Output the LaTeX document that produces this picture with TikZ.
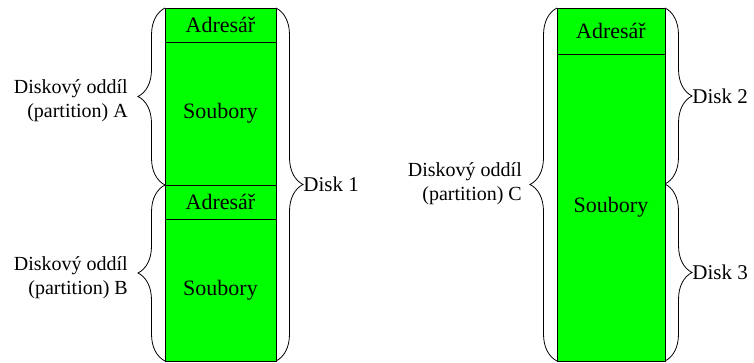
\documentclass[tikz,border=0pt]{standalone}
\usepackage{fontspec}
\setmainfont{Liberation Serif}
\usetikzlibrary{positioning, decorations.pathreplacing}
\definecolor{disk_fill}{HTML}{00FF00}

\begin{document}
\begin{tikzpicture}[
    x=1pt, y=-1pt,
    blok/.style={draw=black, fill=disk_fill, line width=0.8pt, inner sep=0pt, outer sep=0pt,
                 font=\fontsize{22}{26}\selectfont},
    zavorka/.style={decorate, decoration={brace, amplitude=27pt}, line width=0.8pt},
    popis/.style={font=\fontsize{20}{24}\selectfont, align=right, inner sep=0pt},
    disk/.style={font=\fontsize{21}{25}\selectfont, inner sep=0pt}
]
\useasboundingbox (0,0) rectangle (754,363);

% --- Disk 1 (oddily A a B) ---
\node[blok, anchor=north west, minimum width=111pt, minimum height=34pt] (adrA) at (165,8) {Adresář};
\node[blok, anchor=north, minimum width=111pt, minimum height=143pt] (soubA) at (adrA.south) {Soubory};
\node[blok, anchor=north, minimum width=111pt, minimum height=34pt] (adrB) at (soubA.south) {Adresář};
\node[blok, anchor=north, minimum width=111pt, minimum height=142pt] (soubB) at (adrB.south) {Soubory};

% Zavorky vlevo (oddily)
\draw[zavorka] (soubA.south west) -- (adrA.north west);
\draw[zavorka] (soubB.south west) -- (adrB.north west);
\node[popis, anchor=east] (oddA) at (128,101) {Diskový oddíl\\(partition) A};
\node[popis, anchor=east] (oddB) at (128,278) {Diskový oddíl\\(partition) B};

% Zavorka vpravo (disk)
\draw[zavorka] (adrA.north east) -- node[disk, midway, anchor=west, xshift=27pt] (d1) {Disk 1} (soubB.south east);

% --- Disky 2 a 3 (oddil C) ---
\node[blok, anchor=north west, minimum width=108pt, minimum height=46pt] (adrC) at (557,8) {Adresář};
\node[blok, anchor=north, minimum width=108pt, minimum height=307pt] (soubC) at (adrC.south) {Soubory};
\coordinate (hranice) at (soubC.east |- 0,184);

% Zavorka vlevo (oddil C)
\draw[zavorka] (soubC.south west) -- (adrC.north west);
\node[popis, anchor=east] (oddC) at (522,184) {Diskový oddíl\\(partition) C};

% Zavorky vpravo (disky)
\draw[zavorka] (adrC.north east) -- node[disk, midway, anchor=west, xshift=27pt] (d2) {Disk 2} (hranice);
\draw[zavorka] (hranice) -- node[disk, midway, anchor=west, xshift=27pt] (d3) {Disk 3} (soubC.south east);

\end{tikzpicture}
\end{document}
